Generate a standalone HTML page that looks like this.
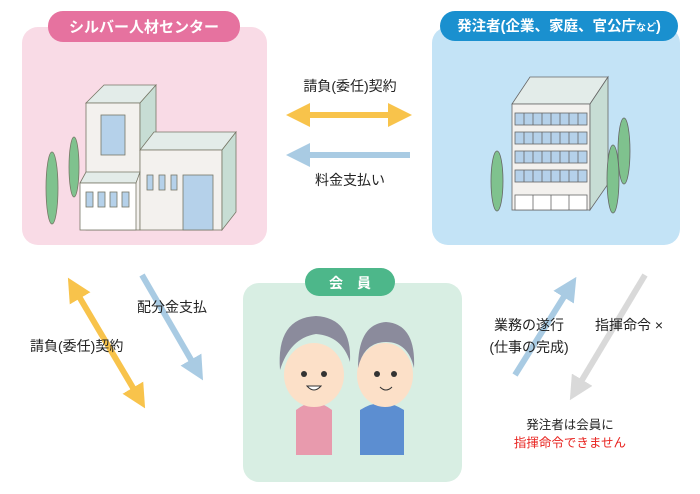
<!DOCTYPE html>
<html><head><meta charset="utf-8"><style>
body{margin:0;background:#fff;width:700px;height:494px;overflow:hidden}
svg{display:block}
text{font-family:"Liberation Sans","Noto Sans CJK JP",sans-serif}
</style></head><body>
<svg width="700" height="494" viewBox="0 0 700 494" xmlns="http://www.w3.org/2000/svg">
<defs>
<marker id="ay" markerWidth="4" markerHeight="4" refX="2" refY="2" orient="auto-start-reverse" markerUnits="strokeWidth"><path d="M0,0 L4,2 L0,4 z" fill="#f8c34b"/></marker>
<marker id="ab" markerWidth="4" markerHeight="4" refX="2" refY="2" orient="auto-start-reverse" markerUnits="strokeWidth"><path d="M0,0 L4,2 L0,4 z" fill="#a9cbe3"/></marker>
<marker id="ag" markerWidth="4" markerHeight="4" refX="2" refY="2" orient="auto-start-reverse" markerUnits="strokeWidth"><path d="M0,0 L4,2 L0,4 z" fill="#d9d9d9"/></marker>
</defs>
<rect x="22" y="27" width="245" height="218" rx="16" fill="#f9dbe6"/>
<rect x="432" y="27" width="248" height="218" rx="16" fill="#c3e3f6"/>
<rect x="243" y="283" width="219" height="199" rx="16" fill="#d8eee3"/>
<rect x="48" y="11" width="192" height="31" rx="15" fill="#e6729f"/>
<text x="144" y="32" font-size="15" font-weight="bold" fill="#fff" text-anchor="middle">シルバー人材センター</text>
<rect x="440" y="11" width="238" height="30" rx="15" fill="#1a90cf"/>
<text x="559" y="31" font-size="14.5" font-weight="bold" fill="#fff" text-anchor="middle">発注者(企業、家庭、官公庁<tspan font-size="10">など</tspan>)</text>
<rect x="305" y="268" width="90" height="28" rx="14" fill="#4db78a"/>
<text x="350" y="288" font-size="14" font-weight="bold" fill="#fff" text-anchor="middle">会　員</text>
<!-- left building -->
<g stroke="#776" stroke-width="0.8">
<ellipse cx="52" cy="188" rx="6" ry="36" fill="#7fc28e"/>
<ellipse cx="74" cy="167" rx="5" ry="30" fill="#7fc28e"/>
<polygon points="86,103 104,85 156,85 140,103" fill="#e3ece9"/>
<rect x="86" y="103" width="54" height="127" fill="#f3f1ee"/>
<polygon points="140,103 156,85 156,140 140,150" fill="#c7ddd4"/>
<rect x="101" y="115" width="24" height="40" fill="#b5d1ea"/>
<polygon points="140,150 154,132 236,132 222,150" fill="#e3ece9"/>
<rect x="140" y="150" width="82" height="80" fill="#f3f1ee"/>
<polygon points="222,150 236,132 236,212 222,230" fill="#c7ddd4"/>
<polygon points="80,183 86,172 140,172 136,183" fill="#e3ece9"/>
<rect x="80" y="183" width="56" height="47" fill="#fff"/>
<rect x="86" y="192" width="7" height="15" fill="#b5d1ea"/><rect x="98" y="192" width="7" height="15" fill="#b5d1ea"/><rect x="110" y="192" width="7" height="15" fill="#b5d1ea"/><rect x="122" y="192" width="7" height="15" fill="#b5d1ea"/>
<rect x="147" y="175" width="6" height="15" fill="#b5d1ea"/><rect x="159" y="175" width="6" height="15" fill="#b5d1ea"/><rect x="171" y="175" width="6" height="15" fill="#b5d1ea"/>
<rect x="183" y="175" width="30" height="55" fill="#b5d1ea"/>
</g>
<!-- right building -->
<g stroke="#666" stroke-width="0.8">
<ellipse cx="497" cy="181" rx="6" ry="30" fill="#7fc28e"/>
<ellipse cx="624" cy="151" rx="6" ry="33" fill="#7fc28e"/>
<polygon points="512,104 530,77 608,77 590,104" fill="#e3ece9"/>
<rect x="512" y="104" width="78" height="106" fill="#f3f1ee"/>
<polygon points="590,104 608,77 608,184 590,210" fill="#c7ddd4"/>
<g fill="#b5d1ea">
<rect x="515" y="113" width="72" height="12"/><rect x="515" y="132" width="72" height="12"/><rect x="515" y="151" width="72" height="12"/><rect x="515" y="170" width="72" height="12"/>
</g>
<path d="M524,113v12M533,113v12M542,113v12M551,113v12M560,113v12M569,113v12M578,113v12M524,132v12M533,132v12M542,132v12M551,132v12M560,132v12M569,132v12M578,132v12M524,151v12M533,151v12M542,151v12M551,151v12M560,151v12M569,151v12M578,151v12M524,170v12M533,170v12M542,170v12M551,170v12M560,170v12M569,170v12M578,170v12" fill="none"/>
<rect x="515" y="195" width="72" height="15" fill="#fff"/>
<path d="M533,195v15M551,195v15M569,195v15" fill="none"/>
<ellipse cx="613" cy="179" rx="6" ry="34" fill="#7fc28e"/>
</g>
<!-- arrows -->
<g stroke-width="6" fill="none">
<line x1="298" y1="115" x2="400" y2="115" stroke="#f8c34b" marker-start="url(#ay)" marker-end="url(#ay)"/>
<line x1="410" y1="155" x2="298" y2="155" stroke="#a9cbe3" marker-end="url(#ab)"/>
<line x1="74" y1="288" x2="139" y2="398" stroke="#f8c34b" marker-start="url(#ay)" marker-end="url(#ay)"/>
<line x1="142" y1="275" x2="197" y2="370" stroke="#a9cbe3" marker-end="url(#ab)"/>
<line x1="515" y1="375" x2="570" y2="287" stroke="#a9cbe3" marker-end="url(#ab)"/>
<line x1="645" y1="275" x2="576" y2="390" stroke="#d9d9d9" marker-end="url(#ag)"/>
</g>
<g font-size="14" fill="#222">
<text x="350" y="91" text-anchor="middle">請負(委任)契約</text>
<text x="350" y="185" text-anchor="middle">料金支払い</text>
<text x="137" y="312">配分金支払</text>
<text x="30" y="351">請負(委任)契約</text>
<text x="529" y="330" text-anchor="middle">業務の遂行</text>
<text x="529" y="352" text-anchor="middle">(仕事の完成)</text>
<text x="595" y="330">指揮命令 ×</text>
<text x="570" y="429" text-anchor="middle" font-size="12.5">発注者は会員に</text>
<text x="570" y="447" text-anchor="middle" font-size="12.5" fill="#e8231f">指揮命令できません</text>
</g>
<!-- people -->
<g>
<path d="M296,455 L296,410 q18,-14 36,0 L332,455z" fill="#e89aad"/>
<path d="M360,455 L360,410 q22,-14 44,0 L404,455z" fill="#5c8ed1"/>
<ellipse cx="314" cy="375" rx="30" ry="32" fill="#fce0c8"/>
<path d="M280,370 q-4,-52 36,-54 q36,2 34,46 q-8,-26 -34,-28 q-26,4 -36,36z" fill="#8b8b9c"/>
<ellipse cx="385" cy="375" rx="28" ry="32" fill="#fce0c8"/>
<path d="M358,368 q0,-44 28,-46 q30,2 28,46 q-6,-26 -28,-26 q-22,0 -28,26z" fill="#8b8b9c"/>
<circle cx="304" cy="374" r="3" fill="#333"/><circle cx="324" cy="374" r="3" fill="#333"/>
<circle cx="377" cy="374" r="3" fill="#333"/><circle cx="394" cy="374" r="3" fill="#333"/>
<path d="M307,386 q7,8 14,0z" fill="#fff" stroke="#333"/>
<path d="M380,387 q6,6 12,0" fill="none" stroke="#333"/>
</g>
</svg>
</body></html>
